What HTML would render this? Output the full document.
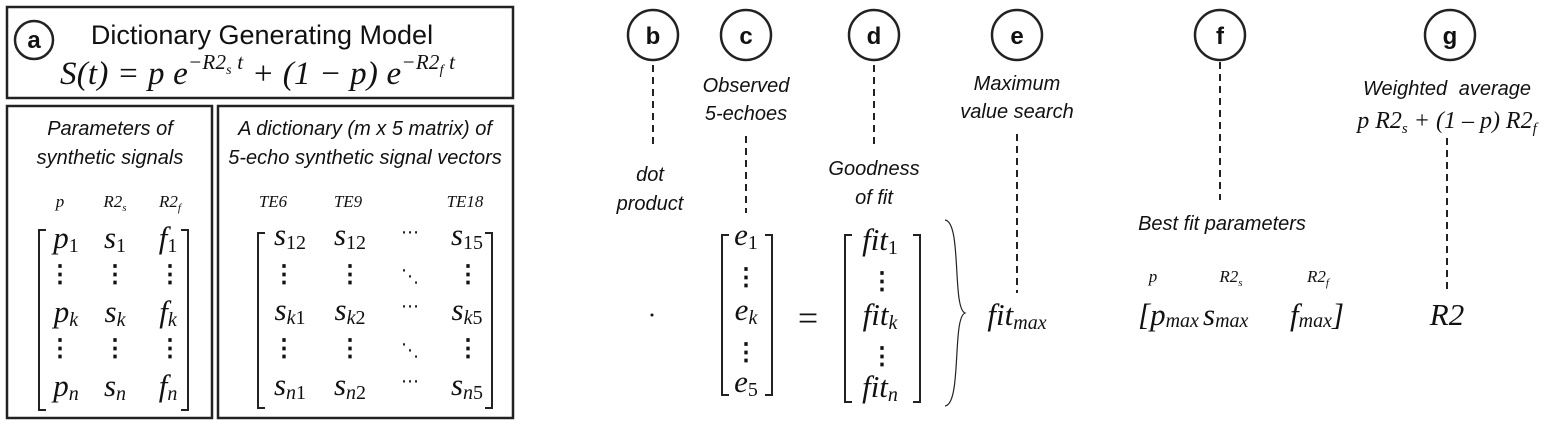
<!DOCTYPE html>
<html><head><meta charset="utf-8"><style>
html,body{margin:0;padding:0;background:#fff;}
svg{display:block}
.s{font-family:"Liberation Sans",sans-serif;font-style:italic;}
.m{font-family:"Liberation Serif",serif;font-style:italic;}
.r{font-family:"Liberation Serif",serif;}
.b{font-family:"Liberation Sans",sans-serif;font-weight:bold;}
.u{font-style:normal;}
</style></head><body>
<svg width="1560" height="428" viewBox="0 0 1560 428" xmlns="http://www.w3.org/2000/svg" fill="#111">
<g fill="none" stroke="#222" stroke-width="2.5">
<rect x="7" y="7" width="506" height="91"/>
<rect x="7" y="106" width="205" height="312"/>
<rect x="218" y="106" width="295" height="312"/>
<circle cx="34" cy="40" r="19"/>
<circle cx="653" cy="35" r="25"/><circle cx="746" cy="35" r="25"/><circle cx="874" cy="35" r="25"/>
<circle cx="1017" cy="35" r="25"/><circle cx="1220" cy="35" r="25"/><circle cx="1450" cy="35" r="25"/>
</g>
<g class="b" font-size="24" text-anchor="middle">
<text x="34" y="48">a</text><text x="653" y="44">b</text><text x="746" y="44">c</text><text x="874" y="44">d</text><text x="1017" y="44">e</text><text x="1220" y="44">f</text><text x="1450" y="44">g</text>
</g>
<text x="262" y="44" font-family="Liberation Sans,sans-serif" font-size="27" text-anchor="middle">Dictionary Generating Model</text>
<text x="60" y="84" class="m" font-size="33" textLength="395" lengthAdjust="spacing">S(t) = p e<tspan font-size="21" dy="-15">−R2</tspan><tspan font-size="14" dy="5">s</tspan><tspan font-size="21" dy="-5"> t</tspan><tspan dy="15"> + (1 − p) e</tspan><tspan font-size="21" dy="-15">−R2</tspan><tspan font-size="14" dy="5">f</tspan><tspan font-size="21" dy="-5"> t</tspan></text>
<g class="s" font-size="20" text-anchor="middle">
<text x="110" y="135">Parameters of</text><text x="110" y="164">synthetic signals</text>
<text x="365" y="135">A dictionary (m x 5 matrix) of</text><text x="365" y="164">5-echo synthetic signal vectors</text>
<text x="650" y="181">dot</text><text x="650" y="210">product</text>
<text x="746" y="92">Observed</text><text x="746" y="120">5-echoes</text>
<text x="874" y="175">Goodness</text><text x="874" y="204">of fit</text>
<text x="1017" y="90">Maximum</text><text x="1017" y="118">value search</text>
<text x="1222" y="230">Best fit parameters</text>
<text x="1447" y="95" word-spacing="6">Weighted  average</text>
</g>
<g class="m" font-size="17" text-anchor="middle">
<text x="60" y="207">p</text><text x="115" y="207">R2<tspan font-size="11" dy="4">s</tspan></text><text x="170" y="207">R2<tspan font-size="11" dy="4">f</tspan></text>
<text x="273" y="207">TE6</text><text x="348" y="207">TE9</text><text x="465" y="207">TE18</text>
<text x="1153" y="282">p</text><text x="1231" y="282">R2<tspan font-size="11" dy="4">s</tspan></text><text x="1318" y="282">R2<tspan font-size="11" dy="4">f</tspan></text>
</g>
<text x="1447" y="128" class="m" font-size="24" text-anchor="middle">p R2<tspan font-size="15" dy="5">s</tspan><tspan dy="-5"> + (1 – p) R2</tspan><tspan font-size="15" dy="5">f</tspan></text>
<g fill="none" stroke="#222" stroke-width="2">
<path d="M46 230H39V410H46M181 230H188V410H181"/>
<path d="M265 233H258V408H265M485 233H492V408H485"/>
<path d="M729 235H722V395H729M765 235H772V395H765"/>
<path d="M852 235H845V402H852M913 235H920V402H913"/>
<path d="M945 220C962 222 952 308 965 313C952 318 962 404 945 406" stroke-width="1.2"/>
<g stroke-dasharray="7,5">
<path d="M653 65V148M746 136V213M874 65V148M1017 134V293M1220 62V200M1447 138V290"/>
</g>
</g>
<g class="m" font-size="31" text-anchor="middle">
<text x="66" y="248">p<tspan class="u" font-size="20" dy="4">1</tspan></text><text x="115" y="248">s<tspan class="u" font-size="20" dy="4">1</tspan></text><text x="168" y="248">f<tspan class="u" font-size="20" dy="4">1</tspan></text>
<text x="66" y="322">p<tspan font-size="20" dy="4">k</tspan></text><text x="115" y="322">s<tspan font-size="20" dy="4">k</tspan></text><text x="168" y="322">f<tspan font-size="20" dy="4">k</tspan></text>
<text x="66" y="396">p<tspan font-size="20" dy="4">n</tspan></text><text x="115" y="396">s<tspan font-size="20" dy="4">n</tspan></text><text x="168" y="396">f<tspan font-size="20" dy="4">n</tspan></text>
<text x="290" y="245">s<tspan class="u" font-size="20" dy="4">12</tspan></text><text x="350" y="245">s<tspan class="u" font-size="20" dy="4">12</tspan></text><text x="467" y="245">s<tspan class="u" font-size="20" dy="4">15</tspan></text>
<text x="290" y="320">s<tspan font-size="20" dy="4">k<tspan class="u">1</tspan></tspan></text><text x="350" y="320">s<tspan font-size="20" dy="4">k<tspan class="u">2</tspan></tspan></text><text x="467" y="320">s<tspan font-size="20" dy="4">k<tspan class="u">5</tspan></tspan></text>
<text x="290" y="395">s<tspan font-size="20" dy="4">n<tspan class="u">1</tspan></tspan></text><text x="350" y="395">s<tspan font-size="20" dy="4">n<tspan class="u">2</tspan></tspan></text><text x="467" y="395">s<tspan font-size="20" dy="4">n<tspan class="u">5</tspan></tspan></text>
<text x="746" y="245">e<tspan class="u" font-size="20" dy="4">1</tspan></text><text x="746" y="320">e<tspan font-size="20" dy="4">k</tspan></text><text x="746" y="392">e<tspan class="u" font-size="20" dy="4">5</tspan></text>
<text x="880" y="250">fit<tspan class="u" font-size="20" dy="4">1</tspan></text><text x="880" y="325">fit<tspan font-size="20" dy="4">k</tspan></text><text x="880" y="397">fit<tspan font-size="20" dy="4">n</tspan></text>
<text x="1017" y="325">fit<tspan font-size="20" dy="4">max</tspan></text>
<text x="1447" y="325">R2</text>
</g>
<g class="m" font-size="31">
<text x="1138" y="325">[p<tspan font-size="20" dy="2">max</tspan></text>
<text x="1203" y="325">s<tspan font-size="20" dy="2">max</tspan></text>
<text x="1290" y="325">f<tspan font-size="20" dy="2">max</tspan><tspan dy="-2">]</tspan></text>
</g>
<text x="808" y="330" class="r" font-size="36" text-anchor="middle">=</text>
<circle cx="652" cy="315" r="1.5"/>
<g font-family="Liberation Serif,serif" font-size="24" text-anchor="middle" font-weight="bold">
<text x="60" y="282">⋮</text><text x="115" y="282">⋮</text><text x="170" y="282">⋮</text>
<text x="60" y="356">⋮</text><text x="115" y="356">⋮</text><text x="170" y="356">⋮</text>
<text x="284" y="282">⋮</text><text x="350" y="282">⋮</text><text x="468" y="282">⋮</text>
<text x="284" y="356">⋮</text><text x="350" y="356">⋮</text><text x="468" y="356">⋮</text>
<text x="746" y="285">⋮</text><text x="746" y="360">⋮</text>
<text x="882" y="289">⋮</text><text x="882" y="364">⋮</text>
</g>
<g font-family="DejaVu Sans,sans-serif" font-size="18" text-anchor="middle">
<text x="410" y="238">⋯</text><text x="410" y="312">⋯</text><text x="410" y="387">⋯</text>
<text x="410" y="282">⋱</text><text x="410" y="356">⋱</text>
</g>
</svg>
</body></html>
